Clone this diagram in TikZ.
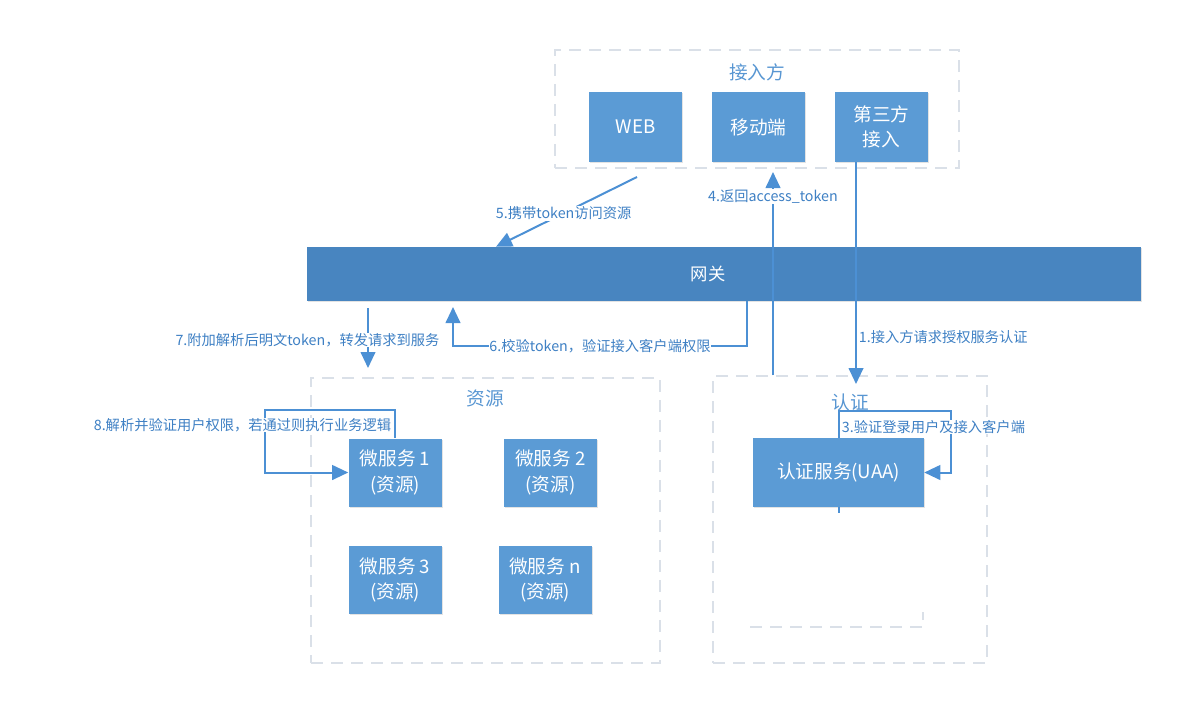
\documentclass[tikz,border=0pt]{standalone}
\usepackage{fontspec}
\setmainfont{Noto Sans CJK SC}
\usetikzlibrary{arrows.meta,fit,shadows}
\definecolor{boxblue}{RGB}{91,155,213}
\definecolor{gwblue}{RGB}{72,133,192}
\definecolor{flowblue}{RGB}{76,144,212}
\definecolor{labelblue}{RGB}{62,128,196}
\definecolor{titleblue}{RGB}{88,150,210}
\definecolor{grpline}{RGB}{218,224,232}
\tikzset{
  grpframe/.style={draw=grpline,line width=1pt,dash pattern=on 9pt off 6pt,inner sep=0pt},
  grptitle/.style={text=titleblue,font=\fontsize{14}{16}\selectfont},
  svcbox/.style={fill=boxblue,text=white,align=center,inner sep=0pt,
    font=\fontsize{14}{19}\selectfont,
    drop shadow={shadow xshift=0.8pt,shadow yshift=-0.8pt,opacity=0.22}},
  topsize/.style={minimum width=69.75pt,minimum height=52.5pt},
  ressize/.style={minimum width=69.75pt,minimum height=51pt},
  uaasize/.style={minimum width=128.25pt,minimum height=51.75pt},
  gwbar/.style={fill=gwblue,minimum width=625.5pt,minimum height=40.5pt,inner sep=0pt,
    drop shadow={shadow xshift=0.8pt,shadow yshift=-0.8pt,opacity=0.22}},
  gwtext/.style={text=white,font=\fontsize{13}{15}\selectfont},
  flowline/.style={draw=flowblue,line width=1.5pt},
  flowarrow/.style={flowline,-{Triangle[length=12pt,width=11pt]}},
  flowlabel/.style={fill=white,text=labelblue,font=\fontsize{10.7}{12}\selectfont,inner sep=0.5pt},
}
\begin{document}
\begin{tikzpicture}[x=0.75pt,y=-0.75pt]
  \useasboundingbox (0,0) rectangle (1189,726);
  % dashed groups
  \node[grpframe,fit={(555,50) (959,168)}] (topgrp) {};
  \node[grpframe,fit={(311,378) (660,663)}] (resgrp) {};
  \node[grpframe,fit={(713,376) (987,663)}] (authgrp) {};
  \draw[grpframe] (750,627) -- (923,627) -- (923,612);
  \node[grptitle] (toptitle) at (757,72) {接入方};
  \node[grptitle] (restitle) at (485,398) {资源};
  \node[grptitle] (authtitle) at (850,402) {认证};
  % clients
  \node[svcbox,topsize] (web) at (635.5,127) {WEB};
  \node[svcbox,topsize] (mobile) at (758.5,127) {移动端};
  \node[svcbox,topsize] (third) at (881.5,127) {第三方\\接入};
  % gateway
  \node[gwbar] (gw) at (724,274) {};
  \node[gwtext] (gwname) at (708,274) {网关};
  % services
  \node[svcbox,ressize] (svc1) at (395,472.5) {微服务 1\\(资源)};
  \node[svcbox,ressize] (svc2) at (550.5,472.5) {微服务 2\\(资源)};
  \node[svcbox,ressize] (svc3) at (395,580) {微服务 3\\(资源)};
  \node[svcbox,ressize] (svcn) at (545,580) {微服务 n\\(资源)};
  \node[svcbox,uaasize] (uaa) at (838.5,472.5) {认证服务(UAA)};
  % flows
  \coordinate (p1) at (856,384);
  \coordinate (p3b) at (951,411);
  \coordinate (p4) at (773,172);
  \coordinate (p5s) at (637,177);
  \coordinate (p5e) at (496,0);
  \coordinate (p6r) at (747,346);
  \coordinate (p6e) at (453,307);
  \coordinate (p7s) at (368,308);
  \coordinate (p7e) at (368,368);
  \coordinate (p8a) at (265,410);
  \draw[flowarrow] (third.south -| p1) -- (p1);
  \draw[flowarrow] (uaa.north) |- (p3b) |- (uaa.east);
  \draw[flowline] (uaa.south) -- ++(0,6);
  \draw[flowarrow] (authgrp.north -| p4) -- node[flowlabel,pos=0.88] (lbl4) {4.返回access\_token} (p4);
  \draw[flowarrow] (p5s) -- node[flowlabel,pos=0.52] (lbl5) {5.携带token访问资源} (gw.north -| p5e);
  \draw[flowarrow] (gw.south -| p6r) -- (p6r)
    -- node[flowlabel] (lbl6) {6.校验token，验证接入客户端权限} (p6r -| p6e) -- (p6e);
  \draw[flowarrow] (p7s) -- (p7e);
  \draw[flowarrow] (svc1.north) |- (p8a) |- (svc1.west);
  % labels
  \node[flowlabel,fill=none,anchor=west] (lbl1) at (858,337) {1.接入方请求授权服务认证};
  \node[flowlabel,anchor=west] (lbl3) at (841,427) {3.验证登录用户及接入客户端};
  \node[flowlabel] (lbl7) at (307.5,340) {7.附加解析后明文token，转发请求到服务};
  \node[flowlabel,anchor=east] (lbl8) at (392,425) {8.解析并验证用户权限，若通过则执行业务逻辑};
\end{tikzpicture}
\end{document}
